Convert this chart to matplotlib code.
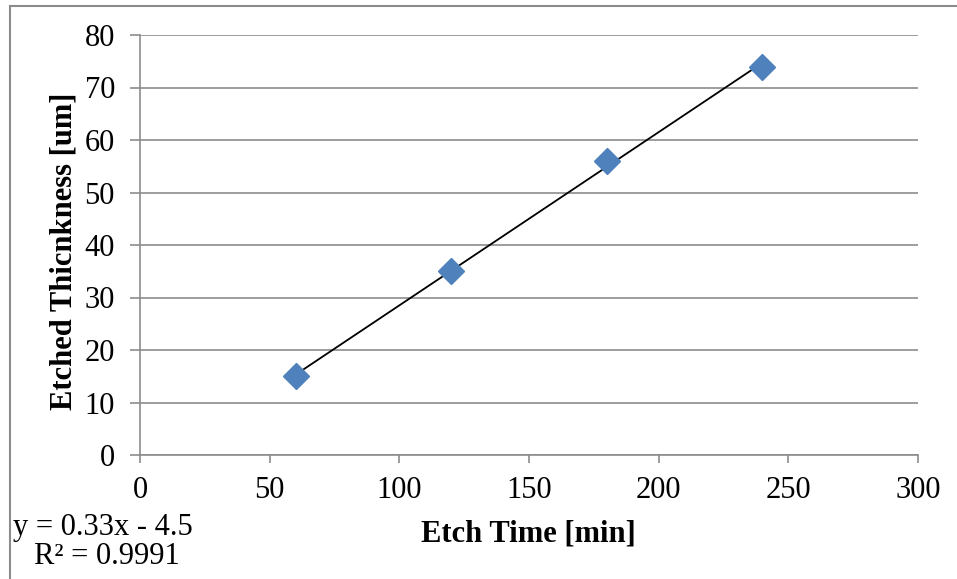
import matplotlib
matplotlib.use("Agg")
import matplotlib.pyplot as plt
import numpy as np
from matplotlib.lines import Line2D

etch_time = [60, 120, 180, 240]
thickness = [15, 35, 56, 74]
x_ticks = [0, 50, 100, 150, 200, 250, 300]
y_ticks = [0, 10, 20, 30, 40, 50, 60, 70, 80]

plt.rcParams['font.family'] = ['Liberation Serif', 'DejaVu Serif']

W, H = 957, 579
fig = plt.figure(figsize=(W / 100, H / 100), dpi=100)
ax = fig.add_axes([140 / W, 1 - 455 / H, (918 - 140) / W, (455 - 35) / H])

grid_c = '#8c8c8c'
ax.set_xlim(0, 300)
ax.set_ylim(0, 80)
ax.set_xticks(x_ticks)
ax.set_yticks(y_ticks)
ax.yaxis.grid(True, color=grid_c, lw=1.2)
ax.set_axisbelow(True)
for s in ['top', 'right']:
    ax.spines[s].set_visible(False)
for s in ['left', 'bottom']:
    ax.spines[s].set_color(grid_c)
    ax.spines[s].set_linewidth(1.2)
ax.tick_params(axis='both', colors=grid_c, labelcolor='black', labelsize=22,
               width=1.2, direction='out')
ax.tick_params(axis='x', pad=9, length=6)
ax.tick_params(axis='y', pad=11, length=7)

# trend line
coef = np.polyfit(etch_time, thickness, 1)
xs = np.array([min(etch_time), max(etch_time)])
ax.plot(xs, np.polyval(coef, xs), color='black', lw=1.3, zorder=2)
ax.plot(etch_time, thickness, linestyle='none', marker='D', ms=13,
        color='#4F81BD', mec='#4F81BD', zorder=3, clip_on=False)

fig.text(528 / W, 1 - 534 / H, 'Etch Time [min]', fontsize=22, fontweight='bold',
         ha='center', va='center')
fig.text(64 / W, 1 - 251 / H, 'Etched Thicnkness [um]', fontsize=22, fontweight='bold',
         ha='center', va='center', rotation=90)

fig.text(13 / W, 1 - 535 / H, 'y = 0.33x - 4.5', fontsize=22, ha='left', va='baseline')
fig.text(34 / W, 1 - 564 / H, 'R² = 0.9991', fontsize=22, ha='left', va='baseline')

# outer chart border (left and top visible)
fig.add_artist(Line2D([10 / W, 10 / W], [0, 1 - 5.5 / H], transform=fig.transFigure,
                      color='#8c8c8c', lw=1.5))
fig.add_artist(Line2D([10 / W, 1], [1 - 5.5 / H, 1 - 5.5 / H], transform=fig.transFigure,
                      color='#8c8c8c', lw=1.5))

fig.savefig('out.png', dpi=100)
